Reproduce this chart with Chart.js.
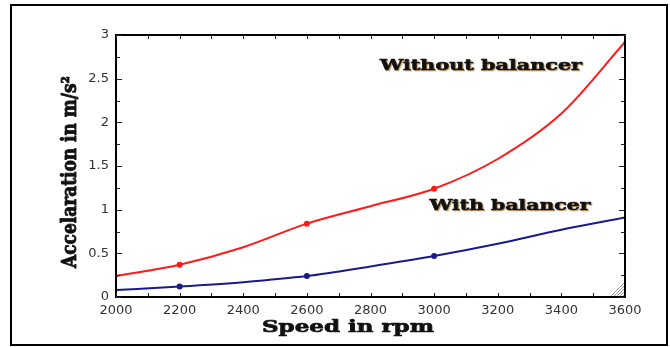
<!DOCTYPE html>
<html><head><meta charset="utf-8">
<script src="https://cdn.jsdelivr.net/npm/chart.js@4/dist/chart.umd.min.js"></script>
<style>html,body{margin:0;padding:0;background:#fff}#wrap{width:670px;height:347px;position:relative}</style>
</head><body><div id="wrap"><canvas id="c" width="670" height="347"></canvas></div>
<script>
const speeds = [2000,2200,2400,2600,2800,3000,3200,3400,3600];
const withoutBalancer = [0.24,0.37,0.57,0.84,1.04,1.24,1.58,2.10,2.92];
const withBalancer    = [0.08,0.12,0.17,0.24,0.35,0.47,0.61,0.77,0.91];
const markedSpeeds = [2200,2600,3000];
const xTicks = [2000,2200,2400,2600,2800,3000,3200,3400,3600];
const yTicks = [0,0.5,1,1.5,2,2.5,3];
const xTitle = 'Speed in rpm';
const yTitle = 'Accelaration in m/s²';
const labelWithout = 'Without balancer';
const labelWith = 'With balancer';

const radii = speeds.map(s => markedSpeeds.includes(s) ? 3 : (s===2000||s===3600 ? 1.5 : 0));

function stretchText(ctx, text, cx, cy, targetW, sy){
  const w = ctx.measureText(text).width;
  ctx.save();
  ctx.translate(cx, cy);
  ctx.scale(targetW / w, sy || 1);
  ctx.textAlign='center'; ctx.textBaseline='middle';
  ctx.lineJoin='round';
  ctx.strokeText(text, 0, 0);
  ctx.fillText(text, 0, 0);
  ctx.restore();
}

const decor = {
  id:'decor',
  afterDraw(chart){
    const ctx = chart.ctx, a = chart.chartArea, xs = chart.scales.x, ys = chart.scales.y;
    ctx.save();
    ctx.strokeStyle='#000'; ctx.lineWidth=2;
    ctx.strokeRect(11,5,656,340);
    ctx.strokeRect(a.left,a.top,a.right-a.left,a.bottom-a.top);
    ctx.lineWidth=1; ctx.strokeStyle='#222';
    for(let v=2000; v<=3600; v+=100){
      const px=Math.round(xs.getPixelForValue(v))+0.5;
      ctx.beginPath(); ctx.moveTo(px,a.bottom); ctx.lineTo(px,a.bottom-4);
      ctx.moveTo(px,a.top); ctx.lineTo(px,a.top+4); ctx.stroke();
    }
    for(let k=0; k<=12; k++){
      const v=k*0.25;
      const py=Math.round(ys.getPixelForValue(v))+0.5;
      const len = (k%2===0)?6:4;
      ctx.beginPath(); ctx.moveTo(a.left,py); ctx.lineTo(a.left+len,py);
      ctx.moveTo(a.right,py); ctx.lineTo(a.right-len,py); ctx.stroke();
    }
    ctx.strokeStyle='#999'; ctx.lineWidth=1;
    for(let i=0;i<5;i++){
      ctx.beginPath(); ctx.moveTo(a.right-14+i*3,a.bottom-1); ctx.lineTo(a.right-1,a.bottom-14+i*3); ctx.stroke();
    }
    ctx.fillStyle='#111'; ctx.strokeStyle='#111'; ctx.lineWidth=0.7;
    ctx.font='bold 17px "DejaVu Serif"';
    stretchText(ctx, xTitle, 348, 328, 172, 1);
    ctx.save();
    ctx.translate(71,172); ctx.rotate(-Math.PI/2);
    ctx.font='bold 16px "DejaVu Serif"';
    stretchText(ctx, yTitle, 0, 0, 192, 1.3);
    ctx.restore();
    ctx.font='bold 14px "DejaVu Serif"';
    ctx.lineWidth=0.6;
    ctx.shadowColor='rgba(150,100,30,0.55)'; ctx.shadowBlur=1; ctx.shadowOffsetX=1; ctx.shadowOffsetY=1;
    stretchText(ctx, labelWithout, 481, 66, 202, 1);
    stretchText(ctx, labelWith, 510, 206, 161, 1);
    ctx.restore();
  }
};

new Chart(document.getElementById('c'),{
  type:'line',
  data:{
    labels:speeds,
    datasets:[
      {label:labelWithout,data:speeds.map((s,i)=>({x:s,y:withoutBalancer[i]})),borderColor:'#ff1a1a',backgroundColor:'#ff1a1a',borderWidth:2,pointRadius:radii,pointBorderWidth:0,cubicInterpolationMode:'monotone'},
      {label:labelWith,data:speeds.map((s,i)=>({x:s,y:withBalancer[i]})),borderColor:'#1a1a8c',backgroundColor:'#1a1a8c',borderWidth:2,pointRadius:radii,pointBorderWidth:0,cubicInterpolationMode:'monotone'}
    ]
  },
  options:{
    responsive:false,animation:false,
    layout:{padding:{left:0,right:45,top:35,bottom:0}},
    plugins:{legend:{display:false},tooltip:{enabled:false}},
    scales:{
      x:{type:'linear',min:2000,max:3600,
        afterBuildTicks(s){s.ticks=xTicks.map(v=>({value:v}));},
        afterFit(s){s.height=50;},
        grid:{display:false,drawTicks:false},border:{display:false},
        ticks:{color:'#333',font:{family:'DejaVu Sans',size:13},padding:6,maxRotation:0,callback:v=>String(v)}},
      y:{type:'linear',min:0,max:3,
        afterBuildTicks(s){s.ticks=yTicks.map(v=>({value:v}));},
        afterFit(s){s.width=116;},
        grid:{display:false,drawTicks:false},border:{display:false},
        ticks:{color:'#333',font:{family:'DejaVu Sans',size:13},padding:7,callback:v=>String(v)}}
    }
  },
  plugins:[decor]
});
</script></body></html>
